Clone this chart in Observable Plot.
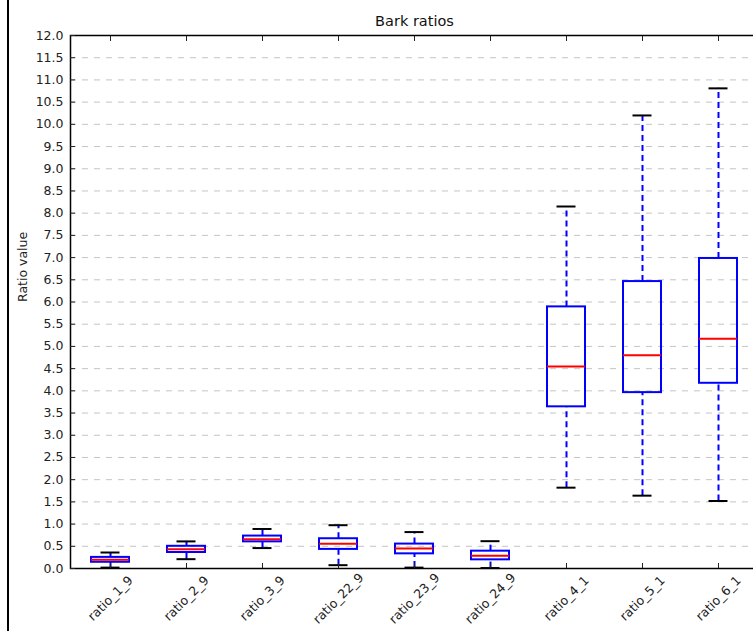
<!DOCTYPE html>
<html><head><meta charset="utf-8">
<script src="https://cdn.jsdelivr.net/npm/d3@7"></script>
<script src="https://cdn.jsdelivr.net/npm/@observablehq/plot@0.6"></script>
<style>
html,body{margin:0;padding:0;background:#fff;overflow:hidden;width:753px;height:631px}
#wrap{position:relative;width:753px;height:631px;overflow:hidden;background:#fff}
#chart{position:absolute;left:0;top:0;width:760px}
#chart svg{max-width:none !important}
#edge{position:absolute;left:7px;top:0;width:1.5px;height:631px;background:#000}
</style></head><body>
<div id="wrap"><div id="chart"></div><div id="edge"></div></div>
<script>
const categories = ["ratio_1_9","ratio_2_9","ratio_3_9","ratio_22_9","ratio_23_9","ratio_24_9","ratio_4_1","ratio_5_1","ratio_6_1"];
const whiskerLow  = [0.02, 0.21, 0.46, 0.075, 0.02, 0.01, 1.82, 1.64, 1.52];
const q1          = [0.14, 0.36, 0.60, 0.43, 0.33, 0.195, 3.64, 3.96, 4.17];
const median      = [0.195, 0.435, 0.66, 0.56, 0.45, 0.285, 4.55, 4.80, 5.17];
const q3          = [0.25, 0.50, 0.73, 0.67, 0.55, 0.39, 5.89, 6.46, 6.98];
const whiskerHigh = [0.36, 0.61, 0.89, 0.975, 0.82, 0.615, 8.15, 10.2, 10.81];
const yTicks = [0,0.5,1,1.5,2,2.5,3,3.5,4,4.5,5,5.5,6,6.5,7,7.5,8,8.5,9,9.5,10,10.5,11,11.5,12];
const gridLines = yTicks.filter(d => d > 0 && d < 12);
const title = "Bark ratios";
const yLabel = "Ratio value";

const data = categories.map((c, i) => ({cat: c, lo: whiskerLow[i], q1: q1[i], med: median[i], q3: q3[i], hi: whiskerHigh[i]}));

const chart = Plot.plot({
  width: 760, height: 631,
  marginLeft: 70, marginRight: 2, marginTop: 35, marginBottom: 63,
  style: {fontFamily: "DejaVu Sans", fontSize: "12.5px", background: "transparent", color: "#222", maxWidth: "none"},
  x: {type: "band", domain: categories, paddingInner: 0.5, paddingOuter: 0.25, axis: null},
  y: {domain: [0, 12], axis: null},
  marks: [
    Plot.ruleY(gridLines, {y: d => d, stroke: "#c4c4c4", strokeDasharray: "6,6", strokeWidth: 1}),
    Plot.ruleX(data, {x: "cat", y1: "q3", y2: "hi", stroke: "#0000ff", strokeWidth: 2, strokeDasharray: "6,4"}),
    Plot.ruleX(data, {x: "cat", y1: "lo", y2: "q1", stroke: "#0000ff", strokeWidth: 2, strokeDasharray: "6,4"}),
    Plot.barY(data, {x: "cat", y1: "q1", y2: "q3", fill: "none", stroke: "#0000ff", strokeWidth: 2}),
    Plot.tickY(data, {x: "cat", y: "med", stroke: "#ff0000", strokeWidth: 2}),
    Plot.tickY(data, {x: "cat", y: "hi", stroke: "#000", strokeWidth: 2, inset: 9.5}),
    Plot.tickY(data, {x: "cat", y: "lo", stroke: "#000", strokeWidth: 2, inset: 9.5}),
    Plot.frame({stroke: "#000", strokeWidth: 1.5}),
    Plot.axisY(yTicks, {anchor: "left", tickSize: -5, tickPadding: 12, tickFormat: d3.format(".1f"), label: null, fill: "#222"}),
    Plot.axisX(categories, {anchor: "bottom", tickSize: -5, tickFormat: () => "", label: null}),
    Plot.axisX(categories, {anchor: "top", tickSize: -5, tickFormat: () => "", label: null}),
    Plot.text(data, {x: "cat", text: "cat", frameAnchor: "bottom", rotate: -45, textAnchor: "middle", lineAnchor: "middle", dy: 30, fill: "#222"}),
    Plot.text([title], {text: d => d, frameAnchor: "top", dy: -14, fontSize: 14.5, lineAnchor: "middle", fill: "#111"}),
    Plot.text([yLabel], {text: d => d, frameAnchor: "left", rotate: -90, dx: -48, fontSize: 12.5, lineAnchor: "middle", fill: "#222"})
  ]
});
document.getElementById("chart").appendChild(chart);
</script>
</body></html>
